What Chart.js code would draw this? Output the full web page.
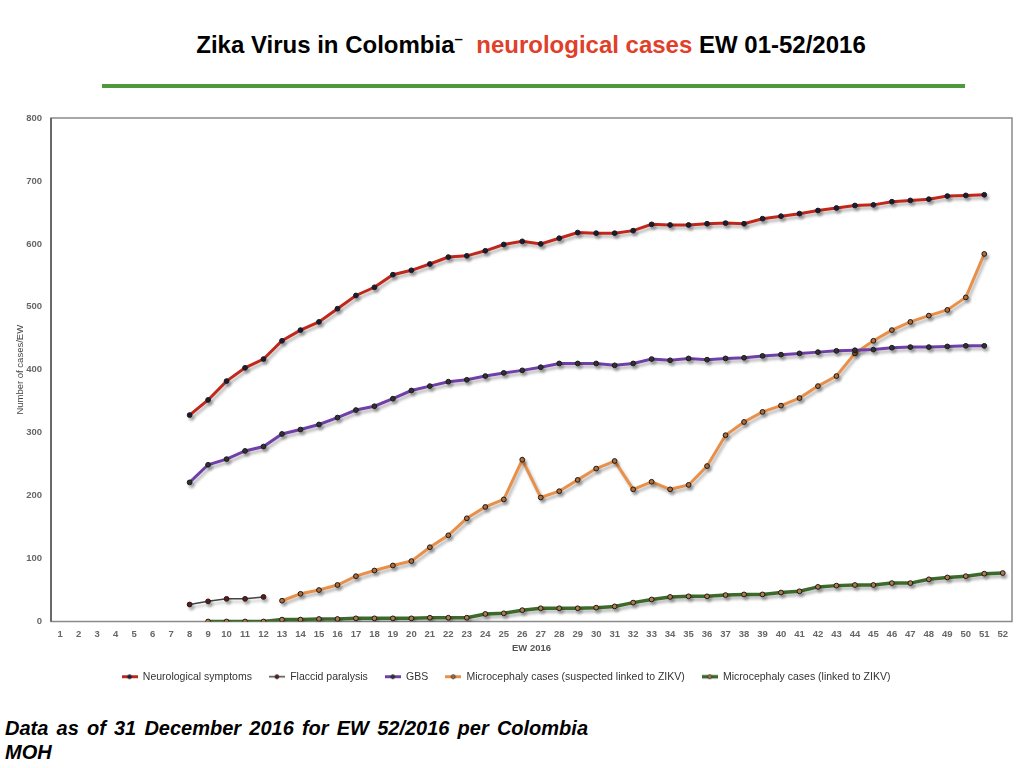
<!DOCTYPE html>
<html>
<head>
<meta charset="utf-8">
<script src="https://cdn.jsdelivr.net/npm/chart.js@4.4.1/dist/chart.umd.min.js"></script>
<style>
  html, body { margin:0; padding:0; background:#fff; width:1024px; height:768px; overflow:hidden; font-family:"Liberation Sans", Arial, sans-serif; }
  #title { position:absolute; left:0; top:30px; width:1062px; text-align:center; font-weight:bold; font-size:24px; color:#000; white-space:nowrap; }
  #title .red { color:#e0402a; }
  #rule { position:absolute; left:102px; top:84px; width:863px; height:4px; background:#4c9a3c; }
  #wrap { position:absolute; left:0; top:100px; width:1024px; height:600px; }
  #footer { position:absolute; left:5px; top:716px; width:583px; font-weight:bold; font-style:italic; font-size:20px; line-height:24px; text-align:justify; color:#000; }
</style>
</head>
<body>
<div id="title">Zika Virus in Colombia<sup style="font-size:15px">–</sup>&nbsp; <span class="red">neurological cases</span> EW 01-52/2016</div>
<div id="rule"></div>
<div id="wrap"><canvas id="c" width="1024" height="600"></canvas></div>
<div id="footer">Data as of 31 December 2016 for EW 52/2016 per Colombia MOH</div>
<script>
const weeks = ["1","2","3","4","5","6","7","8","9","10","11","12","13","14","15","16","17","18","19","20","21","22","23","24","25","26","27","28","29","30","31","32","33","34","35","36","37","38","39","40","41","42","43","44","45","46","47","48","49","50","51","52"];
const yTicks = [0,100,200,300,400,500,600,700,800];

const neurological = [null,null,null,null,null,null,null,328,352,382,403,417,446,463,476,497,518,531,551,558,568,579,581,589,599,604,600,609,618,617,617,621,631,630,630,632,633,632,640,644,648,653,657,661,662,667,669,671,676,677,678,null];
const flaccid = [null,null,null,null,null,null,null,27,32,36,36,39,null,null,null,null,null,null,null,null,null,null,null,null,null,null,null,null,null,null,null,null,null,null,null,null,null,null,null,null,null,null,null,null,null,null,null,null,null,null,null,null];
const gbs = [null,null,null,null,null,null,null,221,249,258,271,278,298,305,313,324,336,342,354,367,374,381,384,390,395,399,404,410,410,410,407,410,417,415,418,416,418,419,422,424,426,428,430,431,432,435,436,436,437,438,438,null];
const microSuspected = [null,null,null,null,null,null,null,null,null,null,null,null,33,44,50,58,72,81,89,96,118,137,164,182,194,257,197,207,225,243,255,210,222,210,217,247,296,317,333,343,355,374,390,426,446,463,476,486,495,515,584,null];
const microLinked = [null,null,null,null,null,null,null,null,0,0,0,0,3,3,4,4,5,5,5,5,6,6,6,12,13,18,21,21,21,22,24,30,35,39,40,40,42,43,43,46,48,55,57,58,58,61,61,67,70,72,76,77];

const seriesNames = ["Neurological symptoms","Flaccid paralysis","GBS","Microcephaly cases (suspected linked to ZIKV)","Microcephaly cases (linked to ZIKV)"];

function legendIcon(lineColor, dotFill, lineW) {
  const cv = document.createElement('canvas');
  cv.width = 16; cv.height = 7;
  const g = cv.getContext('2d');
  g.strokeStyle = lineColor; g.lineWidth = lineW;
  g.beginPath(); g.moveTo(0,3.5); g.lineTo(16,3.5); g.stroke();
  g.fillStyle = dotFill; g.strokeStyle = '#222'; g.lineWidth = 0.8;
  g.beginPath(); g.arc(8,3.5,2,0,Math.PI*2); g.fill(); g.stroke();
  return cv;
}

const styles = [
  {line:'#c0281c', dot:'#1c1c3c', w:3},
  {line:'#444444', dot:'#6a1a1a', w:1.5},
  {line:'#7040a8', dot:'#333333', w:3},
  {line:'#e8904a', dot:'#b8703a', w:3},
  {line:'#3d6a2c', dot:'#b8804a', w:3.5}
];
const dataArrays = [neurological, flaccid, gbs, microSuspected, microLinked];

const datasets = dataArrays.map((d,i) => ({
  label: seriesNames[i],
  data: d,
  borderColor: styles[i].line,
  backgroundColor: styles[i].line,
  borderWidth: styles[i].w,
  pointRadius: 2.4,
  pointBorderWidth: 1,
  pointBorderColor: '#1a1a1a',
  pointBackgroundColor: styles[i].dot,
  pointStyle: 'circle',
  spanGaps: false,
  tension: 0,
  legendIcon: legendIcon(styles[i].line, styles[i].dot, styles[i].w)
}));

const boxPlugin = {
  id: 'box',
  beforeDatasetsDraw(chart) {
    const ctx = chart.ctx;
    ctx.save();
    ctx.shadowColor = 'rgba(0,0,0,0.28)';
    ctx.shadowBlur = 3;
    ctx.shadowOffsetX = 2;
    ctx.shadowOffsetY = 3;
  },
  afterDatasetsDraw(chart) {
    chart.ctx.restore();
  },
  beforeDraw(chart) {
    const {ctx, chartArea:a} = chart;
    ctx.save();
    ctx.strokeStyle = '#8a8a8a';
    ctx.lineWidth = 1.5;
    ctx.strokeRect(a.left, a.top, a.right - a.left, a.bottom - a.top);
    ctx.strokeStyle = '#555';
    ctx.beginPath(); ctx.moveTo(a.left, a.top); ctx.lineTo(a.left, a.bottom); ctx.stroke();
    ctx.restore();
  }
};

new Chart(document.getElementById('c'), {
  type: 'line',
  data: { labels: weeks, datasets },
  options: {
    responsive: false,
    animation: false,
    layout: { padding: { top: 18, right: 12, bottom: 8, left: 0 } },
    plugins: {
      tooltip: { enabled: false },
      legend: {
        position: 'bottom',
        labels: {
          usePointStyle: true,
          pointStyleWidth: 16,
          padding: 17,
          color: '#333',
          font: { family: '"Liberation Sans", Arial, sans-serif', size: 10.5 },
          generateLabels(chart) {
            return chart.data.datasets.map((ds, i) => ({
              text: ds.label,
              pointStyle: ds.legendIcon,
              fillStyle: ds.borderColor,
              strokeStyle: ds.borderColor,
              lineWidth: 0,
              hidden: false,
              datasetIndex: i,
              fontColor: '#333'
            }));
          }
        }
      }
    },
    scales: {
      x: {
        type: 'category',
        offset: true,
        grid: { display: false, drawTicks: false },
        border: { display: false },
        ticks: { padding: 7, color: '#666', autoSkip: false, maxRotation: 0, font: { family: '"Liberation Sans", Arial, sans-serif', size: 9.5, weight: 'bold' } },
        title: { display: true, text: 'EW 2016', color: '#555', padding: { top: 2, bottom: 0 }, font: { family: '"Liberation Sans", Arial, sans-serif', size: 9.5, weight: 'bold' } },
        afterFit(s) { s.height = 33; }
      },
      y: {
        min: 0, max: 800,
        afterBuildTicks(s) { s.ticks = yTicks.map(v => ({ value: v })); },
        grid: { display: false, drawTicks: false },
        border: { display: false },
        ticks: { padding: 9, color: '#666', font: { family: '"Liberation Sans", Arial, sans-serif', size: 9.5, weight: 'bold' } },
        title: { display: true, text: 'Number of cases/EW', color: '#444', padding: { top: 15, bottom: 0 }, font: { family: '"Liberation Sans", Arial, sans-serif', size: 9.5 } },
        afterFit(s) { s.width = 51; }
      }
    }
  },
  plugins: [boxPlugin]
});
</script>
</body>
</html>
